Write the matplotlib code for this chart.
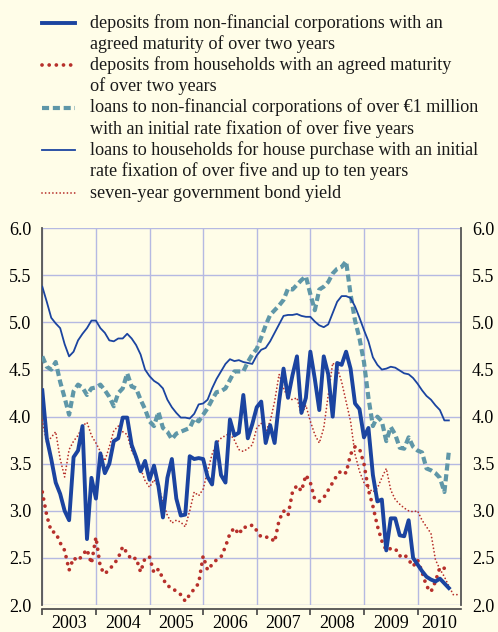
import numpy as np
import matplotlib
matplotlib.use("Agg")
import matplotlib.pyplot as plt
from matplotlib.lines import Line2D

plt.rcParams['font.family'] = ['Liberation Serif', 'DejaVu Serif']

# monthly data, starting January 2003
nfc_deposits = [4.28, 3.77, 3.55, 3.30, 3.18, 3.00, 2.90, 3.57, 3.64, 3.90,
                2.70, 3.35, 3.13, 3.61, 3.40, 3.50, 3.74, 3.77, 3.99, 3.99,
                3.70, 3.57, 3.42, 3.53, 3.33, 3.48, 3.26, 2.93, 3.35, 3.55,
                3.13, 2.95, 2.96, 3.58, 3.55, 3.56, 3.55, 3.36, 3.28, 3.73,
                3.38, 3.30, 3.97, 3.80, 3.83, 4.23, 3.77, 3.92, 4.10, 4.16,
                3.72, 3.91, 3.72, 4.16, 4.51, 4.20, 4.44, 4.64, 4.04, 4.20,
                4.69, 4.40, 4.07, 4.64, 4.45, 4.00, 4.57, 4.55, 4.69, 4.51,
                4.14, 4.08, 3.78, 3.88, 3.38, 3.10, 3.12, 2.58, 2.92, 2.92,
                2.74, 2.73, 2.90, 2.50, 2.43, 2.36, 2.30, 2.27, 2.25, 2.28,
                2.23, 2.18]
hh_deposits = [3.20, 2.95, 2.78, 2.77, 2.66, 2.58, 2.37, 2.50, 2.47, 2.53,
               2.59, 2.44, 2.72, 2.40, 2.33, 2.38, 2.43, 2.50, 2.62, 2.55,
               2.48, 2.50, 2.35, 2.50, 2.51, 2.34, 2.38, 2.28, 2.20, 2.19,
               2.14, 2.11, 2.04, 2.11, 2.17, 2.23, 2.52, 2.37, 2.43, 2.48,
               2.51, 2.62, 2.76, 2.82, 2.75, 2.83, 2.82, 2.85, 2.79, 2.72,
               2.72, 2.72, 2.67, 2.90, 3.00, 2.95, 3.20, 3.27, 3.21, 3.38,
               3.30, 3.12, 3.10, 3.14, 3.22, 3.30, 3.38, 3.43, 3.40, 3.60,
               3.68, 3.66, 3.50, 3.22, 3.05, 2.84, 2.68, 2.58, 2.60, 2.60,
               2.52, 2.54, 2.48, 2.41, 2.48, 2.35, 2.20, 2.14, 2.25, 2.40,
               2.39, 2.35]
nfc_loans = [4.64, 4.53, 4.50, 4.58, 4.37, 4.20, 4.02, 4.27, 4.34, 4.31,
             4.23, 4.30, 4.31, 4.34, 4.28, 4.21, 4.11, 4.25, 4.30, 4.46,
             4.32, 4.30, 4.18, 4.08, 3.95, 3.90, 4.05, 3.88, 3.84, 3.76,
             3.82, 3.84, 3.86, 3.88, 3.98, 3.95, 4.02, 4.09, 4.18, 4.26,
             4.27, 4.30, 4.39, 4.48, 4.48, 4.48, 4.58, 4.66, 4.72, 4.84,
             4.97, 5.08, 5.13, 5.18, 5.24, 5.36, 5.35, 5.40, 5.45, 5.49,
             5.30, 5.13, 5.35, 5.38, 5.43, 5.52, 5.57, 5.59, 5.65, 5.30,
             5.02, 4.83, 4.58, 4.20, 3.90, 4.00, 3.95, 3.74, 3.89, 3.81,
             3.67, 3.66, 3.78, 3.68, 3.64, 3.62, 3.45, 3.43, 3.40, 3.35,
             3.20, 3.63]
hh_loans = [5.38, 5.22, 5.05, 4.99, 4.94, 4.77, 4.64, 4.69, 4.81, 4.88,
            4.94, 5.02, 5.02, 4.94, 4.89, 4.81, 4.80, 4.83, 4.83, 4.88,
            4.83, 4.76, 4.66, 4.50, 4.43, 4.38, 4.35, 4.30, 4.18, 4.10,
            4.04, 3.99, 3.99, 3.98, 4.03, 4.13, 4.14, 4.18, 4.30, 4.40,
            4.48, 4.56, 4.61, 4.59, 4.60, 4.58, 4.57, 4.56, 4.65, 4.71,
            4.73, 4.80, 4.89, 4.98, 5.07, 5.08, 5.08, 5.09, 5.07, 5.06,
            5.06, 5.01, 4.97, 4.95, 4.98, 5.10, 5.22, 5.28, 5.28, 5.26,
            5.17, 5.05, 4.92, 4.80, 4.63, 4.55, 4.50, 4.51, 4.53, 4.52,
            4.49, 4.46, 4.45, 4.41, 4.35, 4.28, 4.22, 4.18, 4.12, 4.07,
            3.96, 3.96]
bond_7y = [3.96, 3.72, 3.78, 3.84, 3.55, 3.36, 3.65, 3.74, 3.80, 3.90,
           3.94, 3.80, 3.72, 3.63, 3.53, 3.68, 3.85, 3.90, 3.84, 3.81,
           3.64, 3.55, 3.45, 3.32, 3.25, 3.33, 3.25, 3.10, 2.95, 2.87,
           2.90, 2.88, 2.83, 3.00, 3.20, 3.16, 3.23, 3.42, 3.60, 3.72,
           3.77, 3.80, 3.82, 3.75, 3.65, 3.63, 3.66, 3.70, 3.88, 3.93,
           3.84, 3.95, 4.16, 4.45, 4.30, 4.20, 4.18, 4.20, 4.02, 4.12,
           3.95, 3.81, 3.72, 3.88, 4.23, 4.57, 4.52, 4.37, 4.16, 3.95,
           3.60, 3.42, 3.30, 3.24, 3.20, 3.24, 3.35, 3.45, 3.22, 3.12,
           3.07, 3.03, 3.00, 2.99, 3.00, 2.90, 2.83, 2.76, 2.48, 2.38,
           2.30, 2.20, 2.11, 2.11]

years = [2003, 2004, 2005, 2006, 2007, 2008, 2009, 2010]
labels = [
    ["deposits from non-financial corporations with an",
     "agreed maturity of over two years"],
    ["deposits from households with an agreed maturity",
     "of over two years"],
    ["loans to non-financial corporations of over \u20ac1 million",
     "with an initial rate fixation of over five years"],
    ["loans to households for house purchase with an initial",
     "rate fixation of over five and up to ten years"],
    ["seven-year government bond yield"],
]

blue = '#1B44A0'
red = '#B7302B'
teal = '#5F97A8'
bg = '#FFFDE8'

styles = [
    dict(color=blue, lw=2.8, ls='-', solid_joinstyle='round', zorder=6),
    dict(color=red, lw=2.7, ls=(0, (0.01, 1.9)), dash_capstyle='round', zorder=5),
    dict(color=teal, lw=3.0, ls=(0, (1.7, 0.9)), zorder=3),
    dict(color=blue, lw=1.3, ls='-', zorder=4),
    dict(color=red, lw=1.3, ls=(0, (0.01, 2.0)), dash_capstyle='round', zorder=4),
]
series = [nfc_deposits, hh_deposits, nfc_loans, hh_loans, bond_7y]

fig = plt.figure(figsize=(4.98, 6.32), dpi=100, facecolor=bg)
ax = fig.add_axes([42.3 / 498, 1 - 605 / 632, (461 - 42.3) / 498, (605 - 228.3) / 632])
ax.set_facecolor(bg)

for vals, st in zip(series, styles):
    x = 2003 + np.arange(len(vals)) / 12
    ax.plot(x, vals, **st)

ax.set_xlim(2003, 2010.81)
ax.set_ylim(2.0, 6.0)
ax.set_yticks(np.arange(2.0, 6.01, 0.5))
ax.set_yticklabels([f"{v:.1f}" for v in np.arange(2.0, 6.01, 0.5)])
ax.tick_params(axis='y', length=0, labelsize=13, pad=8, labelright=True)

ax.set_xticks(years)
ax.set_xticklabels([])
mids = [y + 0.5 for y in years[:-1]] + [2010.4]
ax.set_xticks(mids, minor=True)
ax.set_xticklabels([str(y) for y in years], minor=True)
ax.tick_params(axis='x', which='major', direction='out', length=4, width=1.2,
               color='#444444')
ax.tick_params(axis='x', which='minor', length=0, labelsize=13, pad=4)

ax.grid(True, which='major', color='#B5B9E2', lw=1.0, zorder=0)
for s in ['left', 'right']:
    ax.spines[s].set_color('#555555')
    ax.spines[s].set_linewidth(1.3)
ax.spines['top'].set_visible(False)
ax.spines['bottom'].set_color('#444444')
ax.spines['bottom'].set_linewidth(1.2)
ax.spines['bottom'].set_position(('outward', 3))

# legend drawn by hand: handle next to the first line of each entry
H = 632
first_rows = [22.7, 64.5, 107.5, 150, 192.5]
for lab, st, yc in zip(labels, styles, first_rows):
    kw = {k: v for k, v in st.items() if k != 'zorder'}
    fig.add_artist(Line2D([42 / 498, 75 / 498], [1 - yc / H, 1 - yc / H],
                          transform=fig.transFigure, **kw))
    for i, line in enumerate(lab):
        fig.text(90 / 498, 1 - (yc + 5 + 21.2 * i) / H, line,
                 fontsize=13.1, va='baseline', ha='left', color='#1a1a1a')

fig.savefig('out.png', dpi=100, facecolor=bg)
